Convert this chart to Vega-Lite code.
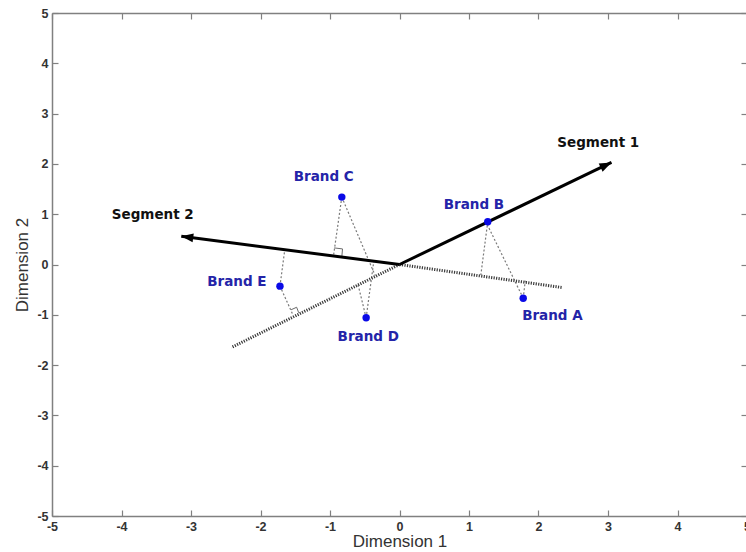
{
  "$schema": "https://vega.github.io/schema/vega-lite/v6.json",
  "width": 695,
  "height": 503,
  "autosize": {"type": "none"},
  "padding": {"left": 52, "top": 13, "right": 0, "bottom": 36},
  "background": "white",
  "config": {
    "view": {"stroke": null},
    "axis": {
      "grid": false,
      "domainColor": "#808080",
      "domainWidth": 1.5,
      "tickColor": "#808080",
      "tickWidth": 1.2,
      "tickSize": -6,
      "labelFont": "Liberation Sans",
      "labelFontSize": 12.5,
      "labelFontWeight": "bold",
      "labelColor": "#333333",
      "labelPadding": 10,
      "labelFlush": false,
      "labelOverlap": false,
      "labelExpr": "toString(datum.value)",
      "titleFont": "Liberation Sans",
      "titleFontSize": 17,
      "titleFontWeight": "normal",
      "titleColor": "#333333"
    }
  },
  "datasets": {
    "paths": [
      {"path": "seg1", "kind": "arrow", "i": 0, "x": 0, "y": 0},
      {"path": "seg1", "kind": "arrow", "i": 1, "x": 3.05, "y": 2.03},
      {"path": "seg2", "kind": "arrow", "i": 0, "x": 0, "y": 0},
      {"path": "seg2", "kind": "arrow", "i": 1, "x": -3.14, "y": 0.56},
      {"path": "seg1neg", "kind": "axis", "i": 0, "x": 0, "y": 0},
      {"path": "seg1neg", "kind": "axis", "i": 1, "x": -2.42, "y": -1.65},
      {"path": "seg2neg", "kind": "axis", "i": 0, "x": 0, "y": 0},
      {"path": "seg2neg", "kind": "axis", "i": 1, "x": 2.35, "y": -0.46},
      {"path": "projA2", "kind": "proj", "i": 0, "x": 1.78, "y": -0.67},
      {"path": "projA2", "kind": "proj", "i": 1, "x": 1.81, "y": -0.32},
      {"path": "projA1", "kind": "proj", "i": 0, "x": 1.78, "y": -0.67},
      {"path": "projA1", "kind": "proj", "i": 1, "x": 1.25, "y": 0.83},
      {"path": "projB2", "kind": "proj", "i": 0, "x": 1.27, "y": 0.85},
      {"path": "projB2", "kind": "proj", "i": 1, "x": 1.17, "y": -0.21},
      {"path": "projC2", "kind": "proj", "i": 0, "x": -0.83, "y": 1.34},
      {"path": "projC2", "kind": "proj", "i": 1, "x": -0.95, "y": 0.17},
      {"path": "projC1", "kind": "proj", "i": 0, "x": -0.83, "y": 1.34},
      {"path": "projC1", "kind": "proj", "i": 1, "x": -0.35, "y": -0.22},
      {"path": "projD2", "kind": "proj", "i": 0, "x": -0.48, "y": -1.06},
      {"path": "projD2", "kind": "proj", "i": 1, "x": -0.37, "y": 0.06},
      {"path": "projD1", "kind": "proj", "i": 0, "x": -0.48, "y": -1.06},
      {"path": "projD1", "kind": "proj", "i": 1, "x": -0.6, "y": -0.38},
      {"path": "projE2", "kind": "proj", "i": 0, "x": -1.72, "y": -0.43},
      {"path": "projE2", "kind": "proj", "i": 1, "x": -1.65, "y": 0.3},
      {"path": "projE1", "kind": "proj", "i": 0, "x": -1.72, "y": -0.43},
      {"path": "projE1", "kind": "proj", "i": 1, "x": -1.53, "y": -1.01},
      {"path": "rightC", "kind": "corner", "i": 0, "x": -0.83, "y": 0.15},
      {"path": "rightC", "kind": "corner", "i": 1, "x": -0.82, "y": 0.31},
      {"path": "rightC", "kind": "corner", "i": 2, "x": -0.94, "y": 0.33},
      {"path": "rightE", "kind": "corner", "i": 0, "x": -1.45, "y": -0.96},
      {"path": "rightE", "kind": "corner", "i": 1, "x": -1.48, "y": -0.85},
      {"path": "rightE", "kind": "corner", "i": 2, "x": -1.56, "y": -0.9}
    ],
    "brands": [
      {"brand": "Brand A", "x": 1.78, "y": -0.67, "lx": 2.2, "ly": -1.03},
      {"brand": "Brand B", "x": 1.27, "y": 0.85, "lx": 1.07, "ly": 1.19},
      {"brand": "Brand C", "x": -0.83, "y": 1.34, "lx": -1.09, "ly": 1.73},
      {"brand": "Brand D", "x": -0.48, "y": -1.06, "lx": -0.45, "ly": -1.45},
      {"brand": "Brand E", "x": -1.72, "y": -0.43, "lx": -2.34, "ly": -0.34}
    ],
    "segments": [
      {"segment": "Segment 1", "x": 3.05, "y": 2.03, "lx": 2.86, "ly": 2.42},
      {"segment": "Segment 2", "x": -3.14, "y": 0.56, "lx": -3.55, "ly": 0.98}
    ]
  },
  "layer": [
    {
      "data": {"name": "brands"},
      "mark": {"type": "point", "opacity": 0},
      "encoding": {
        "x": {
          "field": "x", "type": "quantitative",
          "scale": {"domain": [-5, 5], "nice": false, "zero": false},
          "axis": {"orient": "bottom", "values": [-5, -4, -3, -2, -1, 0, 1, 2, 3, 4, 5], "title": "Dimension 1", "titlePadding": 1}
        },
        "y": {
          "field": "y", "type": "quantitative",
          "scale": {"domain": [-5, 5], "nice": false, "zero": false},
          "axis": {"orient": "left", "values": [-5, -4, -3, -2, -1, 0, 1, 2, 3, 4, 5], "title": "Dimension 2", "titlePadding": 5}
        }
      }
    },
    {
      "data": {"name": "brands"},
      "mark": {"type": "point", "opacity": 0},
      "encoding": {
        "x": {
          "field": "x", "type": "quantitative",
          "axis": {"orient": "top", "values": [-5, -4, -3, -2, -1, 0, 1, 2, 3, 4, 5], "labels": false, "title": null}
        },
        "y": {
          "field": "y", "type": "quantitative",
          "axis": {"orient": "right", "values": [-5, -4, -3, -2, -1, 0, 1, 2, 3, 4, 5], "labels": false, "title": null}
        }
      }
    },
    {
      "mark": {"type": "rule", "color": "#8c8c8c", "strokeWidth": 1.5},
      "encoding": {"x": {"datum": 0, "type": "quantitative", "axis": null}}
    },
    {
      "mark": {"type": "rule", "color": "#8c8c8c", "strokeWidth": 1.5},
      "encoding": {"y": {"datum": 0, "type": "quantitative", "axis": null}}
    },
    {
      "data": {"name": "paths"},
      "transform": [{"filter": "datum.kind === 'proj'"}],
      "mark": {"type": "line", "color": "#7a7a7a", "strokeWidth": 1.2, "strokeDash": [2, 2]},
      "encoding": {
        "x": {"field": "x", "type": "quantitative", "axis": null},
        "y": {"field": "y", "type": "quantitative", "axis": null},
        "detail": {"field": "path"},
        "order": {"field": "i"}
      }
    },
    {
      "data": {"name": "paths"},
      "transform": [{"filter": "datum.kind === 'corner'"}],
      "mark": {"type": "line", "color": "#6a6a6a", "strokeWidth": 1},
      "encoding": {
        "x": {"field": "x", "type": "quantitative", "axis": null},
        "y": {"field": "y", "type": "quantitative", "axis": null},
        "detail": {"field": "path"},
        "order": {"field": "i"}
      }
    },
    {
      "data": {"name": "paths"},
      "transform": [{"filter": "datum.kind === 'axis'"}],
      "mark": {"type": "line", "color": "#3a3a3a", "strokeWidth": 3, "strokeDash": [1.2, 1.3]},
      "encoding": {
        "x": {"field": "x", "type": "quantitative", "axis": null},
        "y": {"field": "y", "type": "quantitative", "axis": null},
        "detail": {"field": "path"},
        "order": {"field": "i"}
      }
    },
    {
      "data": {"name": "paths"},
      "transform": [{"filter": "datum.kind === 'arrow'"}],
      "mark": {"type": "line", "color": "#000000", "strokeWidth": 3},
      "encoding": {
        "x": {"field": "x", "type": "quantitative", "axis": null},
        "y": {"field": "y", "type": "quantitative", "axis": null},
        "detail": {"field": "path"},
        "order": {"field": "i"}
      }
    },
    {
      "data": {"name": "segments"},
      "transform": [{"filter": "datum.segment === 'Segment 1'"}],
      "mark": {"type": "point", "shape": "M0,0L-0.9,2.4L0.9,2.4Z", "size": 100, "filled": true, "color": "#000000", "opacity": 1, "angle": 64.3},
      "encoding": {
        "x": {"field": "x", "type": "quantitative", "axis": null},
        "y": {"field": "y", "type": "quantitative", "axis": null}
      }
    },
    {
      "data": {"name": "segments"},
      "transform": [{"filter": "datum.segment === 'Segment 2'"}],
      "mark": {"type": "point", "shape": "M0,0L-0.9,2.4L0.9,2.4Z", "size": 100, "filled": true, "color": "#000000", "opacity": 1, "angle": 277.3},
      "encoding": {
        "x": {"field": "x", "type": "quantitative", "axis": null},
        "y": {"field": "y", "type": "quantitative", "axis": null}
      }
    },
    {
      "data": {"name": "brands"},
      "mark": {"type": "point", "shape": "circle", "filled": true, "size": 55, "color": "#0a0ae6", "opacity": 1},
      "encoding": {
        "x": {"field": "x", "type": "quantitative", "axis": null},
        "y": {"field": "y", "type": "quantitative", "axis": null}
      }
    },
    {
      "data": {"name": "brands"},
      "mark": {"type": "text", "font": "DejaVu Sans", "fontSize": 13.5, "fontWeight": "bold", "color": "#2424a8", "align": "center", "baseline": "middle"},
      "encoding": {
        "x": {"field": "lx", "type": "quantitative", "axis": null},
        "y": {"field": "ly", "type": "quantitative", "axis": null},
        "text": {"field": "brand"}
      }
    },
    {
      "data": {"name": "segments"},
      "mark": {"type": "text", "font": "DejaVu Sans", "fontSize": 13.5, "fontWeight": "bold", "color": "#111111", "align": "center", "baseline": "middle"},
      "encoding": {
        "x": {"field": "lx", "type": "quantitative", "axis": null},
        "y": {"field": "ly", "type": "quantitative", "axis": null},
        "text": {"field": "segment"}
      }
    }
  ],
  "resolve": {"axis": {"x": "independent", "y": "independent"}}
}
